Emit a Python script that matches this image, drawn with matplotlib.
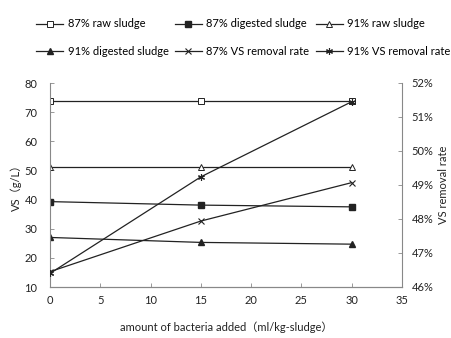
import matplotlib
matplotlib.use("Agg")
import matplotlib.pyplot as plt
from matplotlib.ticker import PercentFormatter

plt.rcParams["font.family"] = ["Lato", "Noto Sans CJK SC", "DejaVu Sans"]

# =========================
# DATA
# =========================
bacteria_added = [0, 15, 30]

raw_87 = [73.9, 73.9, 73.9]
digested_87 = [39.3, 38.1, 37.5]
raw_91 = [51.1, 51.1, 51.1]
digested_91 = [27.0, 25.3, 24.7]

removal_87 = [46.45, 47.94, 49.07]
removal_91 = [46.40, 49.24, 51.45]

# =========================
# FIGURE
# =========================
fig = plt.figure(figsize=(4.52, 3.38), dpi=100)
ax = fig.add_axes([50 / 452, 1 - 287 / 338, 352 / 452, 204 / 338])
ax2 = ax.twinx()

lw = 0.9
c = "#222222"
ax.plot(bacteria_added, raw_87, color=c, lw=lw, marker="s", ms=4.5,
        mfc="white", mec=c, mew=0.7, label="87% raw sludge")
ax.plot(bacteria_added, digested_87, color=c, lw=lw, marker="s", ms=4.5,
        mfc=c, mec=c, label="87% digested sludge")
ax.plot(bacteria_added, raw_91, color=c, lw=lw, marker="^", ms=4.5,
        mfc="white", mec=c, mew=0.7, label="91% raw sludge")
ax.plot(bacteria_added, digested_91, color=c, lw=lw, marker="^", ms=4.5,
        mfc=c, mec=c, label="91% digested sludge")
ax2.plot(bacteria_added, removal_87, color=c, lw=lw, marker="x", ms=4.5,
         mew=0.8, label="87% VS removal rate")
ax2.plot(bacteria_added, removal_91, color=c, lw=lw, marker=(6, 2, 0), ms=5,
         mew=0.8, label="91% VS removal rate")

ax.set_xlim(0, 35)
ax.set_ylim(10, 80)
ax.set_xticks(range(0, 36, 5))
ax.set_yticks(range(10, 81, 10))
ax2.set_ylim(46, 52)
ax2.set_yticks(range(46, 53))
ax2.yaxis.set_major_formatter(PercentFormatter(decimals=0))

for a in (ax, ax2):
    a.spines["top"].set_visible(False)
    for s in a.spines.values():
        s.set_color("#888888")
        s.set_linewidth(0.8)
    a.tick_params(direction="in", length=3, width=0.6, color="#888888",
                  labelsize=8, labelcolor="#222222")
ax.spines["right"].set_visible(False)
ax2.spines["left"].set_visible(False)
ax.tick_params(axis="y", pad=9)
ax.tick_params(axis="x", pad=6)
ax2.tick_params(axis="y", pad=7)

ax.set_xlabel("amount of bacteria added（ml/kg-sludge）", fontsize=8,
              color="#222222", labelpad=11)
ax.set_ylabel("VS（g/L）", fontsize=8, color="#222222", labelpad=2)
ax2.set_ylabel("VS removal rate", fontsize=8, color="#222222", labelpad=3)

# =========================
# LEGEND (row-wise order like the original)
# =========================
h1, l1 = ax.get_legend_handles_labels()
h2, l2 = ax2.get_legend_handles_labels()
handles = h1 + h2
labels = l1 + l2
order = [0, 3, 1, 4, 2, 5]
fig.legend([handles[i] for i in order], [labels[i] for i in order],
           loc="upper left", bbox_to_anchor=(32 / 452, 1 - 14 / 338),
           ncol=3, frameon=False, fontsize=8, handlelength=2.4,
           handletextpad=0.4, columnspacing=0.6, labelspacing=1.5,
           borderaxespad=0)

fig.savefig("out.png", dpi=100)
